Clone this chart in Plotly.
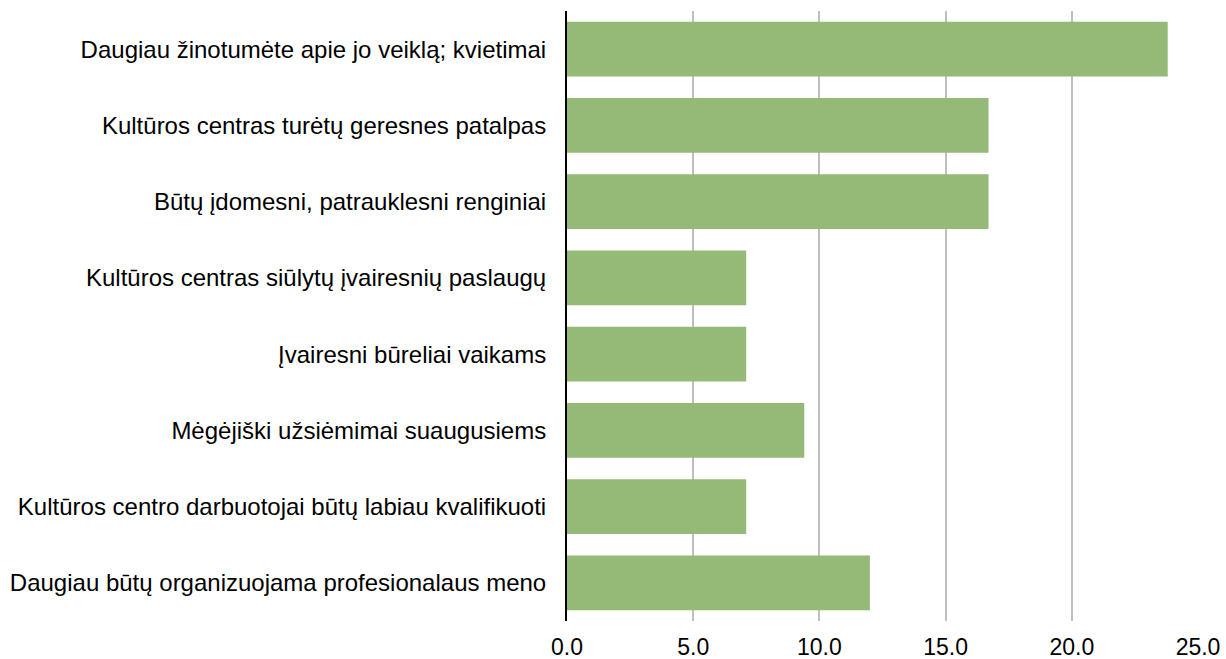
import plotly.graph_objects as go

categories = [
    "Daugiau žinotumėte apie jo veiklą; kvietimai",
    "Kultūros centras turėtų geresnes patalpas",
    "Būtų įdomesni, patrauklesni renginiai",
    "Kultūros centras siūlytų įvairesnių paslaugų",
    "Įvairesni būreliai vaikams",
    "Mėgėjiški užsiėmimai suaugusiems",
    "Kultūros centro darbuotojai būtų labiau kvalifikuoti",
    "Daugiau būtų organizuojama profesionalaus meno",
]
values = [23.8, 16.7, 16.7, 7.1, 7.1, 9.4, 7.1, 12.0]
x_ticks = [0, 5, 10, 15, 20, 25]

fig = go.Figure(
    go.Bar(
        x=values,
        y=categories,
        orientation="h",
        marker=dict(color="#95B976", line=dict(width=0)),
    )
)

font_family = "Liberation Sans, Arial, sans-serif"

fig.update_layout(
    width=1226,
    height=659,
    margin=dict(l=567, r=28, t=11, b=38),
    paper_bgcolor="white",
    plot_bgcolor="white",
    bargap=0.28,
    showlegend=False,
    font=dict(family=font_family, size=23, color="black"),
)

fig.update_xaxes(
    range=[0, 25],
    tickvals=x_ticks,
    tickformat=".1f",
    showgrid=True,
    gridcolor="#BFBFBF",
    gridwidth=2,
    zeroline=False,
    showline=False,
    ticks="",
    automargin=False,
    tickfont=dict(size=23, family=font_family, color="black"),
    ticklabelstandoff=10,
)

fig.update_yaxes(
    autorange="reversed",
    showgrid=False,
    zeroline=False,
    showline=True,
    linecolor="black",
    linewidth=2,
    ticks="",
    automargin=False,
    tickfont=dict(size=24, family=font_family, color="black"),
    ticklabelstandoff=14,
)

fig.write_html(
    "out.html",
    config={"displayModeBar": False},
    post_script="document.body.style.margin='0';document.body.style.overflow='hidden';",
)
